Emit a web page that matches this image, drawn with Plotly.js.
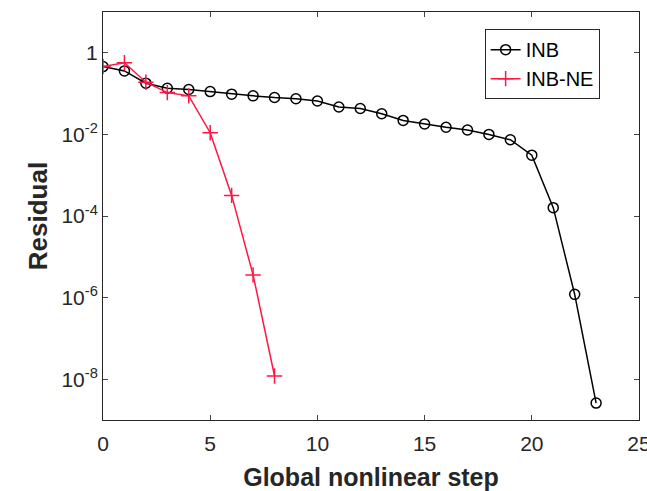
<!DOCTYPE html>
<html>
<head>
<meta charset="utf-8">
<script src="https://cdn.plot.ly/plotly-3.0.1.min.js"></script>
<style>html,body{margin:0;padding:0;background:#fff;}#plot{width:647px;height:491px;}</style>
</head>
<body>
<div id="plot"></div>
<script>
const inbSteps = [0,1,2,3,4,5,6,7,8,9,10,11,12,13,14,15,16,17,18,19,20,21,22,23];
const inbResidual = [0.46,0.36,0.18,0.135,0.126,0.112,0.097,0.088,0.080,0.075,0.066,0.047,0.043,0.032,0.022,0.018,0.015,0.0128,0.010,0.0074,0.0031,1.6e-4,1.2e-6,2.6e-9];
const neSteps = [0,1,2,3,4,5,6,7,8];
const neResidual = [0.46,0.57,0.19,0.106,0.088,0.011,3.2e-4,3.6e-6,1.2e-8];
const yTickVals = [1,1e-2,1e-4,1e-6,1e-8];
const yTickText = ['1','10<sup>-2</sup>','10<sup>-4</sup>','10<sup>-6</sup>','10<sup>-8</sup>'];
const xTickVals = [0,5,10,15,20,25];

const traces = [
  {x: inbSteps, y: inbResidual, name: 'INB', mode: 'lines+markers',
   line: {color: '#000000', width: 1.5},
   marker: {symbol: 'circle-open', size: 10, color: '#000000', line: {width: 1.5}}},
  {x: neSteps, y: neResidual, name: 'INB-NE', mode: 'lines+markers',
   line: {color: '#ff1744', width: 1.5},
   marker: {symbol: 'cross-thin-open', size: 11, color: '#ff1744', line: {width: 1.5, color: '#ff1744'}}}
];

const layout = {
  width: 647, height: 491,
  margin: {l: 103, r: 8, t: 12, b: 71},
  paper_bgcolor: '#ffffff', plot_bgcolor: '#ffffff',
  font: {family: 'Liberation Sans, Arial, sans-serif', color: '#262626', size: 21},
  showlegend: true,
  legend: {x: 0.712, y: 0.958, xanchor: 'left', yanchor: 'top',
           bordercolor: '#262626', borderwidth: 1, bgcolor: '#ffffff',
           font: {size: 20, color: '#000000'}, tracegroupgap: 0},
  xaxis: {range: [0, 25], tickvals: xTickVals, ticks: 'inside', ticklen: 5,
          showline: true, linecolor: '#262626', linewidth: 1, mirror: 'ticks',
          showgrid: false, zeroline: false, tickfont: {size: 21},
          ticklabeloverflow: 'allow', ticklabelstandoff: 5, automargin: false,
          title: {text: '<b>Global nonlinear step</b>', font: {size: 25, color: '#262626'}, standoff: 15}},
  yaxis: {type: 'log', range: [-9, 1], tickvals: yTickVals, ticktext: yTickText,
          ticks: 'inside', ticklen: 5,
          showline: true, linecolor: '#262626', linewidth: 1, mirror: 'ticks',
          showgrid: false, zeroline: false, tickfont: {size: 21},
          automargin: false,
          title: {text: '<b>Residual</b>', font: {size: 26, color: '#262626'}, standoff: 6}}
};

Plotly.newPlot('plot', traces, layout, {displayModeBar: false, staticPlot: true});
</script>
</body>
</html>
